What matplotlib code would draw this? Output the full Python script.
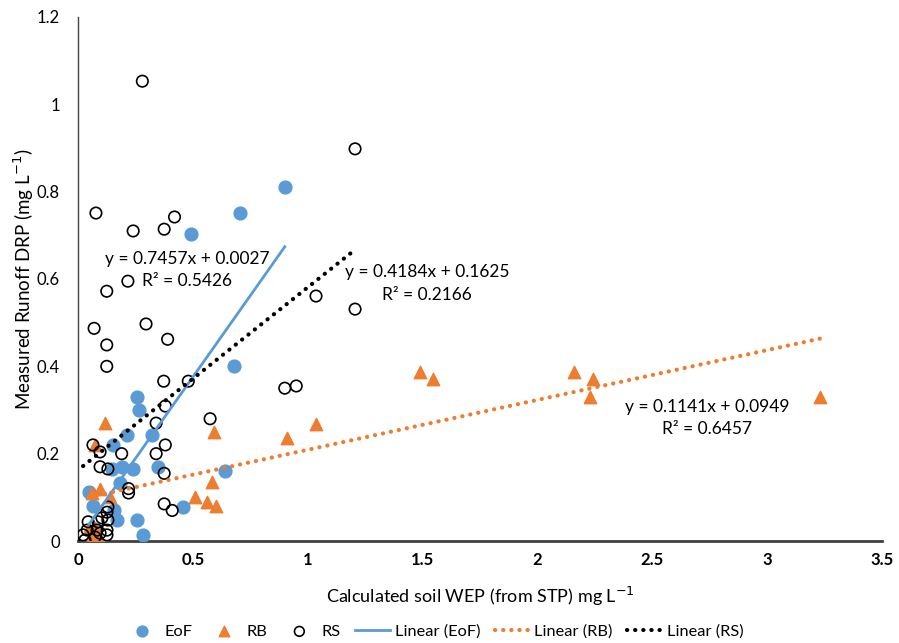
import matplotlib
matplotlib.use("Agg")
import matplotlib.pyplot as plt
import numpy as np

plt.rcParams['font.family'] = ['Lato', 'DejaVu Sans']

# EoF data
eof_x = [0.90, 0.705, 0.49, 0.68, 0.256, 0.266, 0.32, 0.213, 0.152, 0.19, 0.24, 0.35,
         0.148, 0.64, 0.183, 0.048, 0.065, 0.157, 0.17, 0.257, 0.283, 0.457]
eof_y = [0.81, 0.751, 0.703, 0.40, 0.33, 0.30, 0.243, 0.243, 0.22, 0.17, 0.165, 0.17,
         0.165, 0.16, 0.133, 0.112, 0.08, 0.07, 0.048, 0.048, 0.013, 0.078]

# RB data
rb_x = [3.23, 2.16, 2.24, 2.23, 1.49, 1.545, 1.036, 0.91, 0.118, 0.59, 0.585, 0.51,
        0.56, 0.60, 0.096, 0.06, 0.14, 0.074, 0.048, 0.074, 0.09, 0.06]
rb_y = [0.33, 0.387, 0.371, 0.33, 0.387, 0.371, 0.268, 0.236, 0.27, 0.25, 0.135, 0.10,
        0.09, 0.08, 0.12, 0.11, 0.10, 0.22, 0.03, 0.03, 0.01, 0.01]

# RS data
rs_x = [0.28, 1.206, 0.078, 0.24, 0.375, 0.42, 0.217, 0.125, 0.07, 0.296, 0.125, 0.39,
        0.125, 0.373, 0.48, 0.38, 0.575, 0.34, 0.38, 0.34, 0.375, 0.065, 0.096, 0.19,
        0.096, 0.13, 0.22, 0.22, 0.90, 0.95, 1.036, 1.206, 0.375, 0.41,
        0.13, 0.126, 0.104, 0.13, 0.044, 0.087, 0.04, 0.126, 0.083, 0.022, 0.074,
        0.126, 0.03, 0.096]
rs_y = [1.053, 0.898, 0.751, 0.71, 0.714, 0.742, 0.595, 0.572, 0.487, 0.497, 0.449, 0.462,
        0.40, 0.366, 0.366, 0.309, 0.28, 0.27, 0.22, 0.2, 0.155, 0.22, 0.204, 0.2,
        0.17, 0.165, 0.12, 0.11, 0.35, 0.355, 0.561, 0.531, 0.085, 0.07,
        0.078, 0.066, 0.053, 0.048, 0.044, 0.044, 0.025, 0.025, 0.025, 0.014, 0.009,
        0.014, 0.002, 0.018]

# Trendline equations (as labelled)
eof_fit = (0.7457, 0.0027, 0.5426)
rb_fit = (0.1141, 0.0949, 0.6457)
rs_fit = (0.4184, 0.1625, 0.2166)

blue = '#5B9BD5'
orange = '#ED7D31'

fig = plt.figure(figsize=(8.99, 6.43), dpi=100)
ax = fig.add_axes([0.0868, 0.1586, 0.8943, 0.815])

ax.scatter(eof_x, eof_y, s=85, color=blue, edgecolors=blue, zorder=3, label='EoF')
ax.scatter(rb_x, rb_y, s=80, marker='^', color=orange, edgecolors=orange, zorder=3, label='RB')
ax.scatter(rs_x, rs_y, s=68, facecolors='none', edgecolors='black', linewidths=1.2, zorder=4, label='RS')

def trend(xs, fit):
    xx = np.array([min(xs), max(xs)])
    return xx, fit[0] * xx + fit[1]

dot_style = (0, (0.05, 1.9))
xx, yy = trend(eof_x, eof_fit)
ax.plot(xx, yy, color=blue, lw=2.0, zorder=5, label='Linear (EoF)')
xx, yy = trend(rb_x, rb_fit)
ax.plot(xx, yy, color=orange, lw=3.0, linestyle=dot_style, dash_capstyle='round', zorder=5, label='Linear (RB)')
xx, yy = trend(rs_x, rs_fit)
ax.plot(xx, yy, color='black', lw=3.0, linestyle=dot_style, dash_capstyle='round', zorder=5, label='Linear (RS)')

ax.set_xlim(0, 3.5)
ax.set_ylim(0, 1.2)
ax.set_xticks([0, 0.5, 1, 1.5, 2, 2.5, 3, 3.5])
ax.set_xticklabels(['0', '0.5', '1', '1.5', '2', '2.5', '3', '3.5'], fontweight='bold', fontsize=12)
ax.set_yticks([0, 0.2, 0.4, 0.6, 0.8, 1.0, 1.2])
ax.set_yticklabels(['0', '0.2', '0.4', '0.6', '0.8', '1', '1.2'], fontsize=12)
ax.tick_params(axis='x', length=0, pad=8)
ax.tick_params(axis='y', length=0, pad=13)
for s in ['top', 'right']:
    ax.spines[s].set_visible(False)
ax.spines['left'].set_color('#404040')
ax.spines['left'].set_linewidth(1.0)
ax.spines['bottom'].set_color('#404040')
ax.spines['bottom'].set_linewidth(2.0)

ax.set_xlabel('Calculated soil WEP (from STP) mg L$^{\u22121}$', fontsize=13, labelpad=12)
ax.set_ylabel('Measured Runoff DRP (mg L$^{\u22121}$)', fontsize=13.5)
ax.yaxis.set_label_coords(-0.052, 0.5)

def eq(fit):
    return 'y = %.4fx + %.4f' % (fit[0], fit[1]), 'R\u00b2 = %.4f' % fit[2]

e1, r1 = eq(eof_fit)
ax.text(0.475, 0.646, e1, fontsize=12.5, ha='center', va='center')
ax.text(0.475, 0.595, r1, fontsize=12.5, ha='center', va='center')
e2, r2 = eq(rs_fit)
ax.text(1.52, 0.616, e2, fontsize=12.5, ha='center', va='center')
ax.text(1.52, 0.564, r2, fontsize=12.5, ha='center', va='center')
e3, r3 = eq(rb_fit)
ax.text(2.74, 0.307, e3, fontsize=12.5, ha='center', va='center')
ax.text(2.74, 0.256, r3, fontsize=12.5, ha='center', va='center')

handles, labels = ax.get_legend_handles_labels()
fig.legend(handles, labels, loc='center', bbox_to_anchor=(0.483, 0.018), ncol=6,
           frameon=False, fontsize=11.8, handlelength=2.1, handletextpad=0.3,
           columnspacing=0.9, markerscale=0.85)

fig.savefig('out.png', dpi=100)
